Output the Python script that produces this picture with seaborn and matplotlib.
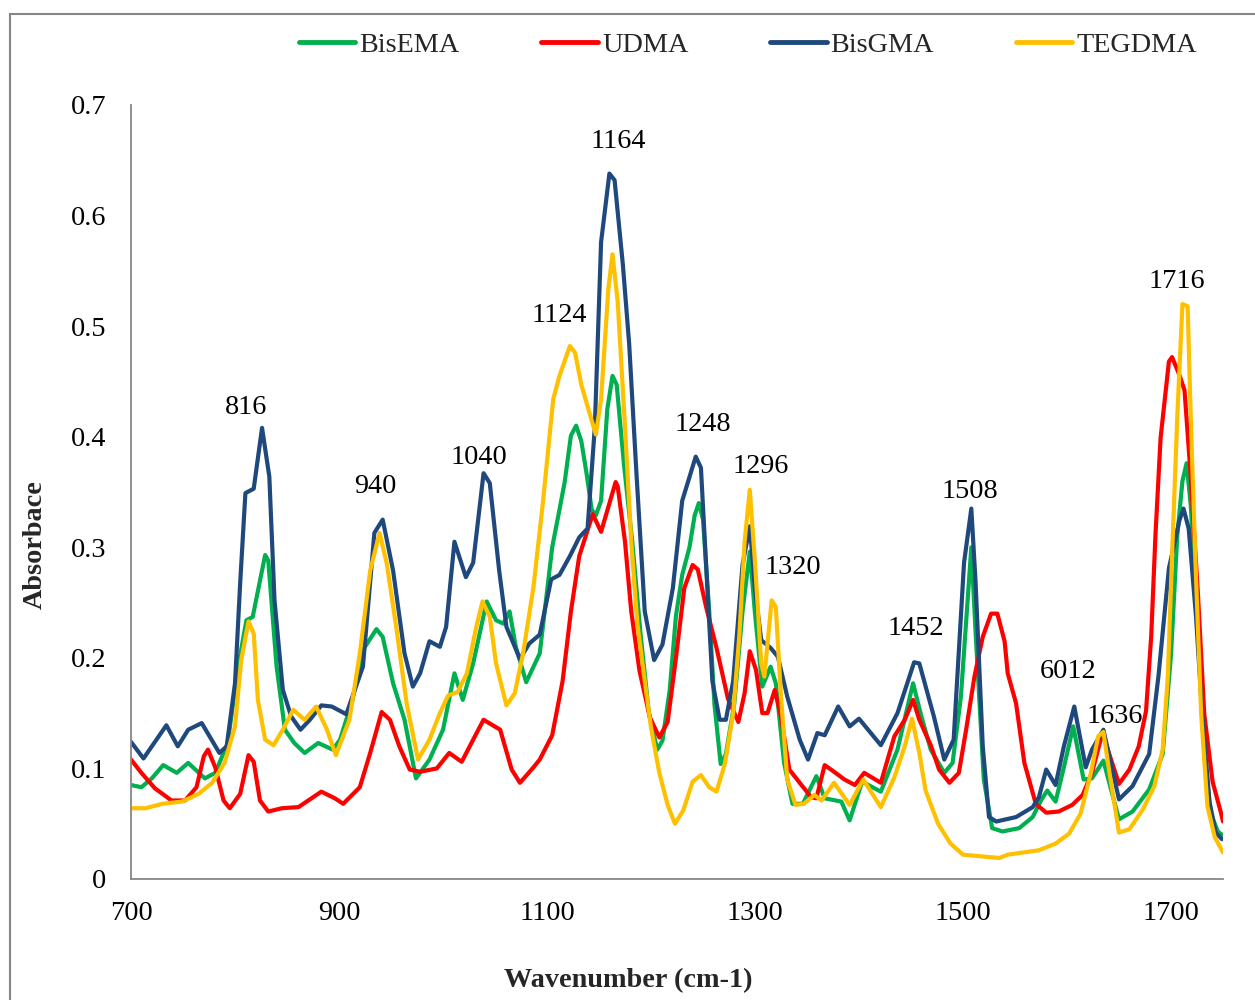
import numpy as np
import pandas as pd
import matplotlib
matplotlib.use("Agg")
import matplotlib.pyplot as plt
import seaborn as sns
from matplotlib.patches import Rectangle

# ---------------- data ----------------
series_names = ["BisEMA", "UDMA", "BisGMA", "TEGDMA"]
series_colors = ["#00B050", "#FF0000", "#1F497D", "#FFC000"]

bisema_wn = [700, 710, 720, 731, 744, 755, 771, 781, 793, 803, 811, 817, 829, 832, 840, 848, 857, 867, 880, 894,
             901, 913, 923, 936, 942, 952, 963, 974, 987, 1000, 1011, 1019, 1029, 1042, 1051, 1058, 1064, 1070, 1080, 1093,
             1105, 1112, 1117, 1123, 1128, 1133, 1138, 1143, 1147, 1152, 1158, 1163, 1167, 1174, 1182, 1190, 1198, 1206, 1211, 1218,
             1224, 1230, 1237, 1242, 1246, 1250, 1256, 1261, 1267, 1272, 1280, 1288, 1295, 1300, 1307, 1315, 1320, 1328, 1336, 1346,
             1359, 1367, 1383, 1391, 1403, 1421, 1437, 1452, 1460, 1469, 1482, 1490, 1498, 1508, 1512, 1520, 1528, 1538, 1554, 1567,
             1575, 1581, 1589, 1597, 1606, 1616, 1624, 1635, 1650, 1663, 1679, 1692, 1700, 1706, 1711, 1715, 1719, 1726, 1732, 1738,
             1745, 1749]
bisema_abs = [0.085, 0.083, 0.091, 0.103, 0.096, 0.105, 0.091, 0.096, 0.123, 0.192, 0.234, 0.237, 0.293, 0.288, 0.192, 0.135, 0.123, 0.114, 0.123, 0.117,
              0.126, 0.162, 0.207, 0.226, 0.219, 0.177, 0.144, 0.091, 0.108, 0.135, 0.186, 0.162, 0.195, 0.251, 0.234, 0.231, 0.242, 0.210, 0.178, 0.204,
              0.300, 0.334, 0.359, 0.401, 0.410, 0.396, 0.367, 0.334, 0.329, 0.342, 0.425, 0.455, 0.447, 0.375, 0.305, 0.221, 0.150, 0.117, 0.125, 0.171,
              0.238, 0.275, 0.300, 0.329, 0.340, 0.325, 0.242, 0.158, 0.104, 0.113, 0.158, 0.242, 0.296, 0.240, 0.174, 0.192, 0.177, 0.105, 0.068, 0.068,
              0.093, 0.073, 0.070, 0.053, 0.088, 0.079, 0.117, 0.177, 0.147, 0.117, 0.096, 0.105, 0.165, 0.300, 0.225, 0.090, 0.046, 0.043, 0.046, 0.056,
              0.071, 0.080, 0.070, 0.101, 0.138, 0.090, 0.091, 0.107, 0.054, 0.061, 0.081, 0.113, 0.203, 0.310, 0.360, 0.376, 0.338, 0.220, 0.113, 0.060,
              0.043, 0.040]

udma_wn = [700, 710, 723, 739, 752, 763, 770, 774, 781, 789, 795, 805, 813, 818, 824, 832, 845, 861, 883, 896,
           904, 920, 930, 941, 949, 958, 968, 978, 994, 1006, 1018, 1029, 1039, 1055, 1066, 1074, 1087, 1093, 1105, 1115,
           1123, 1131, 1144, 1152, 1166, 1168, 1175, 1181, 1189, 1199, 1208, 1216, 1224, 1232, 1240, 1245, 1253, 1263, 1274, 1284,
           1290, 1295, 1301, 1307, 1312, 1319, 1325, 1333, 1343, 1354, 1359, 1367, 1376, 1386, 1396, 1405, 1421, 1434, 1444, 1452,
           1458, 1469, 1477, 1487, 1496, 1503, 1511, 1519, 1527, 1533, 1540, 1543, 1551, 1559, 1570, 1580, 1592, 1605, 1615, 1624,
           1634, 1650, 1660, 1669, 1676, 1681, 1685, 1690, 1698, 1701, 1708, 1713, 1719, 1726, 1732, 1740, 1748, 1750]
udma_abs = [0.108, 0.096, 0.082, 0.071, 0.071, 0.083, 0.111, 0.117, 0.101, 0.071, 0.064, 0.077, 0.112, 0.106, 0.071, 0.061, 0.064, 0.065, 0.079, 0.073,
            0.068, 0.083, 0.114, 0.151, 0.144, 0.120, 0.099, 0.097, 0.100, 0.114, 0.106, 0.126, 0.144, 0.135, 0.099, 0.087, 0.101, 0.108, 0.130, 0.179,
            0.242, 0.292, 0.330, 0.314, 0.359, 0.355, 0.305, 0.242, 0.188, 0.146, 0.128, 0.142, 0.200, 0.263, 0.284, 0.280, 0.246, 0.209, 0.163, 0.142,
            0.168, 0.206, 0.189, 0.150, 0.150, 0.171, 0.147, 0.099, 0.087, 0.074, 0.073, 0.103, 0.097, 0.090, 0.085, 0.096, 0.087, 0.129, 0.144, 0.162,
            0.144, 0.121, 0.099, 0.087, 0.096, 0.135, 0.183, 0.219, 0.240, 0.240, 0.215, 0.186, 0.159, 0.105, 0.068, 0.060, 0.061, 0.067, 0.076, 0.096,
            0.132, 0.086, 0.099, 0.120, 0.152, 0.220, 0.310, 0.399, 0.468, 0.472, 0.456, 0.442, 0.364, 0.256, 0.149, 0.088, 0.060, 0.052]

bisgma_wn = [700, 712, 734, 745, 755, 768, 785, 792, 800, 805, 810, 818, 826, 833, 838, 846, 854, 863, 872, 883,
             893, 907, 923, 934, 942, 952, 963, 971, 978, 987, 997, 1003, 1011, 1022, 1029, 1039, 1045, 1054, 1061, 1074,
             1083, 1093, 1104, 1112, 1122, 1131, 1139, 1146, 1152, 1160, 1165, 1173, 1179, 1186, 1194, 1203, 1211, 1221, 1230, 1243,
             1248, 1253, 1259, 1266, 1272, 1279, 1288, 1295, 1300, 1306, 1315, 1322, 1331, 1343, 1351, 1360, 1367, 1380, 1391, 1400,
             1421, 1437, 1453, 1458, 1472, 1482, 1491, 1501, 1508, 1512, 1519, 1525, 1532, 1551, 1567, 1573, 1580, 1589, 1597, 1607,
             1618, 1624, 1635, 1650, 1663, 1679, 1688, 1698, 1708, 1712, 1717, 1724, 1730, 1737, 1743, 1749]
bisgma_abs = [0.124, 0.109, 0.139, 0.120, 0.135, 0.141, 0.114, 0.120, 0.177, 0.268, 0.349, 0.353, 0.408, 0.364, 0.252, 0.171, 0.147, 0.135, 0.144, 0.157,
              0.156, 0.149, 0.192, 0.313, 0.325, 0.279, 0.204, 0.174, 0.186, 0.215, 0.210, 0.228, 0.305, 0.273, 0.286, 0.367, 0.358, 0.279, 0.228, 0.199,
              0.213, 0.221, 0.271, 0.275, 0.292, 0.309, 0.317, 0.409, 0.576, 0.638, 0.632, 0.555, 0.484, 0.367, 0.242, 0.198, 0.212, 0.263, 0.342, 0.382,
              0.372, 0.284, 0.179, 0.144, 0.144, 0.179, 0.284, 0.319, 0.262, 0.216, 0.209, 0.201, 0.165, 0.126, 0.108, 0.132, 0.130, 0.156, 0.138, 0.145,
              0.121, 0.150, 0.196, 0.195, 0.147, 0.108, 0.126, 0.286, 0.335, 0.270, 0.120, 0.056, 0.052, 0.056, 0.065, 0.074, 0.099, 0.085, 0.120, 0.156,
              0.101, 0.117, 0.135, 0.072, 0.084, 0.113, 0.184, 0.281, 0.324, 0.335, 0.317, 0.238, 0.149, 0.070, 0.042, 0.036]

tegdma_wn = [700, 714, 730, 749, 765, 778, 790, 800, 806, 813, 818, 822, 829, 837, 846, 856, 867, 878, 888, 897,
             910, 920, 930, 939, 946, 955, 965, 976, 987, 997, 1005, 1014, 1023, 1032, 1038, 1045, 1051, 1061, 1069, 1077,
             1087, 1096, 1106, 1112, 1122, 1127, 1133, 1141, 1147, 1152, 1159, 1163, 1168, 1175, 1181, 1187, 1194, 1200, 1208, 1216,
             1223, 1231, 1240, 1248, 1256, 1263, 1271, 1279, 1285, 1290, 1295, 1300, 1306, 1309, 1316, 1320, 1325, 1331, 1339, 1347,
             1357, 1364, 1376, 1391, 1404, 1421, 1434, 1444, 1451, 1458, 1464, 1476, 1488, 1500, 1535, 1543, 1573, 1589, 1602, 1613,
             1623, 1630, 1635, 1641, 1650, 1660, 1673, 1684, 1692, 1697, 1701, 1706, 1711, 1716, 1719, 1724, 1729, 1735, 1742, 1750]
tegdma_abs = [0.064, 0.064, 0.068, 0.070, 0.077, 0.087, 0.105, 0.138, 0.198, 0.233, 0.222, 0.162, 0.126, 0.121, 0.135, 0.153, 0.144, 0.156, 0.136, 0.112,
              0.144, 0.204, 0.279, 0.313, 0.285, 0.228, 0.159, 0.108, 0.126, 0.150, 0.166, 0.169, 0.186, 0.228, 0.251, 0.237, 0.195, 0.157, 0.168, 0.204,
              0.264, 0.340, 0.434, 0.455, 0.482, 0.476, 0.447, 0.421, 0.402, 0.434, 0.534, 0.565, 0.522, 0.409, 0.305, 0.230, 0.179, 0.137, 0.096, 0.067,
              0.050, 0.062, 0.088, 0.094, 0.083, 0.079, 0.104, 0.150, 0.221, 0.305, 0.352, 0.286, 0.195, 0.183, 0.252, 0.246, 0.165, 0.090, 0.067, 0.068,
              0.076, 0.071, 0.087, 0.067, 0.090, 0.065, 0.092, 0.120, 0.145, 0.114, 0.080, 0.050, 0.032, 0.022, 0.019, 0.022, 0.026, 0.032, 0.041, 0.059,
              0.096, 0.129, 0.133, 0.095, 0.042, 0.045, 0.063, 0.084, 0.117, 0.184, 0.292, 0.417, 0.520, 0.518, 0.417, 0.274, 0.149, 0.066, 0.038, 0.024]

peak_labels = ["816", "940", "1040", "1124", "1164", "1248", "1296", "1320", "1452", "1508", "6012", "1636", "1716"]
peak_label_x = [811, 935, 1035, 1112, 1169, 1250, 1306, 1336, 1455, 1507, 1601, 1646, 1706]
peak_label_y = [0.426, 0.355, 0.381, 0.510, 0.667, 0.411, 0.373, 0.282, 0.227, 0.350, 0.188, 0.147, 0.540]

xtick_values = [700, 900, 1100, 1300, 1500, 1700]
ytick_values = [0, 0.1, 0.2, 0.3, 0.4, 0.5, 0.6, 0.7]
ytick_labels = ["0", "0.1", "0.2", "0.3", "0.4", "0.5", "0.6", "0.7"]

# ---------------- build table ----------------
frames = []
for name, wn, ab in zip(series_names,
                        [bisema_wn, udma_wn, bisgma_wn, tegdma_wn],
                        [bisema_abs, udma_abs, bisgma_abs, tegdma_abs]):
    frames.append(pd.DataFrame({"Wavenumber": wn, "Absorbance": ab, "Resin": name}))
df = pd.concat(frames, ignore_index=True)

# ---------------- style ----------------
sns.set_style("white")
plt.rcParams["font.family"] = ["Liberation Serif", "DejaVu Serif"]
FS = 20.3
axis_grey = "#868686"

fig = plt.figure(figsize=(12.55, 10), dpi=100)
ax = fig.add_axes([131 / 1255, 121 / 1000, (1223 - 131) / 1255, (879 - 105) / 1000])

sns.lineplot(data=df, x="Wavenumber", y="Absorbance", hue="Resin", hue_order=series_names,
             palette=series_colors, estimator=None, sort=False, linewidth=3.0, ax=ax)
for ln in ax.get_lines():
    ln.set_solid_joinstyle("round")
    ln.set_solid_capstyle("round")

ax.set_xlim(700, 1750)
ax.set_ylim(0, 0.7)
ax.set_xticks(xtick_values)
ax.set_xticklabels([str(v) for v in xtick_values])
ax.set_yticks(ytick_values)
ax.set_yticklabels(ytick_labels)
ax.tick_params(axis="both", length=0, labelsize=FS, colors="black")
ax.tick_params(axis="y", pad=18)
ax.tick_params(axis="x", pad=16)
ax.set_xlabel("")
ax.set_ylabel("")
for side in ["top", "right"]:
    ax.spines[side].set_visible(False)
for side in ["left", "bottom"]:
    ax.spines[side].set_color(axis_grey)
    ax.spines[side].set_linewidth(1.3)
ax.grid(False)

for lab, lx, ly in zip(peak_labels, peak_label_x, peak_label_y):
    ax.text(lx, ly, lab, ha="center", va="center", fontsize=FS, color="black")

# legend at top
handles, labels = ax.get_legend_handles_labels()
if ax.get_legend() is not None:
    ax.get_legend().remove()
leg = fig.legend(handles, labels, loc="center", bbox_to_anchor=(0.596, 0.955), ncol=4,
                 frameon=False, fontsize=FS, handlelength=2.0, handletextpad=0.15,
                 columnspacing=2.9)
for h in leg.get_lines():
    h.set_linewidth(3.5)

# axis titles
fig.text(35 / 1255, 1 - 545 / 1000, "Absorbace", rotation=90, ha="center", va="center",
         fontsize=FS, fontweight="bold")
fig.text(628 / 1255, 1 - 981 / 1000, "Wavenumber (cm-1)", ha="center", va="center",
         fontsize=FS, fontweight="bold")

# outer chart border
fig.patches.append(Rectangle((10 / 1255, -0.05), 1.2, 1.036, transform=fig.transFigure,
                             fill=False, edgecolor=axis_grey, linewidth=1.5))

fig.savefig("out.png", dpi=100)
